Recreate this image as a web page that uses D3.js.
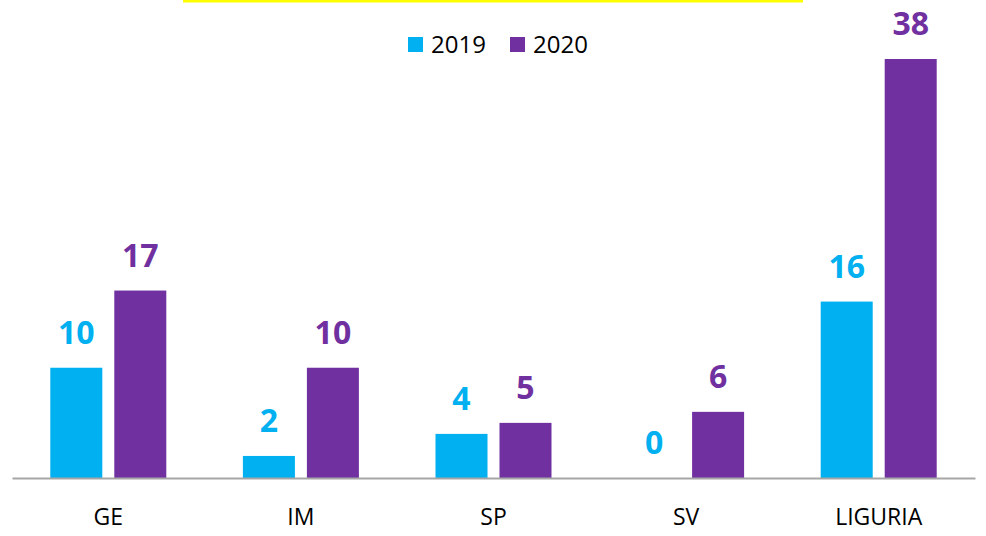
<!DOCTYPE html>
<html>
<head>
<meta charset="utf-8">
<script src="https://cdn.jsdelivr.net/npm/d3@7"></script>
<style>
	body { margin:0; background:#fff; }
	svg { display:block; font-family:"Open Sans", "Liberation Sans", Arial, sans-serif; }
</style>
</head>
<body>
<div id="content"></div>
<script>
// data
var categories = ['GE', 'IM', 'SP', 'SV', 'LIGURIA'];
var seriesNames = ['2019', '2020'];
var values2019 = [10, 2, 4, 0, 16];
var values2020 = [17, 10, 5, 6, 38];
var colors = ['#00B0F0', '#7030A0'];

var width = 986, height = 536;
var svg = d3.select('#content').append('svg')
	.attr('width', width)
	.attr('height', height);

// yellow strip at the top
svg.append('rect')
	.attr('x', 183).attr('y', 0)
	.attr('width', 620).attr('height', 2.5)
	.attr('fill', '#FFFF00');

var baseY = 478;
var x0 = d3.scaleBand().domain(categories).range([12, 975]);
var x1 = d3.scaleBand().domain(seriesNames).range([-58, 58]).paddingInner(0.1875);
var y = d3.scaleLinear().domain([0, 38]).range([baseY, 59]);

var rows = categories.map(function(c, i){
	return {cat:c, vals:[values2019[i], values2020[i]]};
});

var groups = svg.selectAll('g.cat').data(rows).enter().append('g')
	.attr('class', 'cat')
	.attr('transform', function(d){ return 'translate(' + (x0(d.cat) + x0.bandwidth()/2) + ',0)'; });

groups.selectAll('rect').data(function(d){
	return d.vals.map(function(v, j){ return {s:seriesNames[j], v:v, c:colors[j]}; });
}).enter().append('rect')
	.attr('x', function(d){ return x1(d.s); })
	.attr('y', function(d){ return y(d.v); })
	.attr('width', x1.bandwidth())
	.attr('height', function(d){ return baseY - y(d.v); })
	.attr('fill', function(d){ return d.c; });

groups.selectAll('text.val').data(function(d){
	return d.vals.map(function(v, j){ return {s:seriesNames[j], v:v, c:colors[j]}; });
}).enter().append('text')
	.attr('class', 'val')
	.attr('x', function(d){ return x1(d.s) + x1.bandwidth()/2; })
	.attr('y', function(d){ return y(d.v) - 24; })
	.attr('text-anchor', 'middle')
	.attr('font-size', 32)
	.attr('font-weight', 'bold')
	.attr('fill', function(d){ return d.c; })
	.text(function(d){ return d.v; });

// axis
var axis = d3.axisBottom(x0).tickSize(0).tickPadding(31);
var gx = svg.append('g').attr('transform', 'translate(0,' + baseY + ')').call(axis);
gx.select('.domain').attr('stroke', '#A6A6A6').attr('stroke-width', 2);
gx.selectAll('text').attr('font-size', 23).attr('fill', '#000')
	.attr('font-family', '"Open Sans", "Liberation Sans", Arial, sans-serif');

// legend
var legendX = [408, 510];
var legend = svg.selectAll('g.leg').data(seriesNames).enter().append('g')
	.attr('class', 'leg')
	.attr('transform', function(d, i){ return 'translate(' + legendX[i] + ',37)'; });
legend.append('rect').attr('width', 15).attr('height', 15)
	.attr('fill', function(d, i){ return colors[i]; });
legend.append('text').attr('x', 23).attr('y', 16)
	.attr('font-size', 24).attr('fill', '#000')
	.text(function(d){ return d; });
</script>
</body>
</html>
